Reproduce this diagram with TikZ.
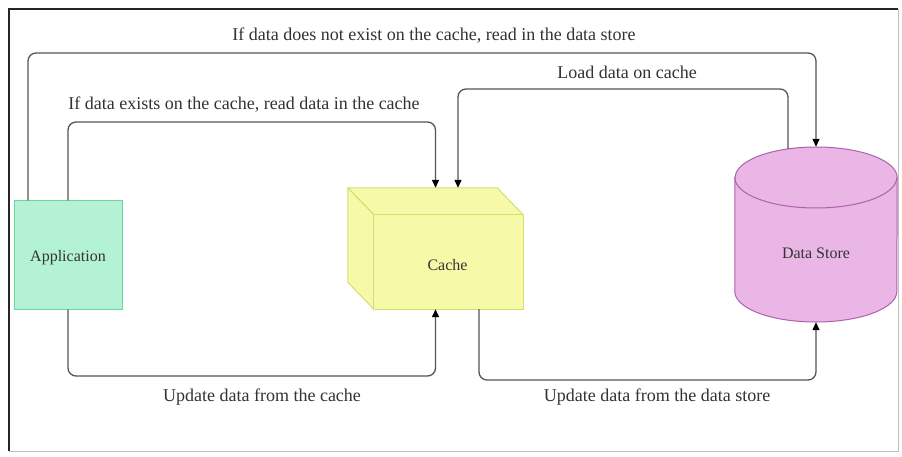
\documentclass[tikz,border=0pt]{standalone}
\usepackage{fontspec}
\setmainfont{Liberation Serif}
\usetikzlibrary{arrows.meta,calc}
\definecolor{appfill}{RGB}{180,242,212}
\definecolor{appline}{RGB}{110,212,160}
\definecolor{cachefill}{RGB}{246,250,168}
\definecolor{cacheline}{RGB}{214,222,112}
\definecolor{storefill}{RGB}{233,182,229}
\definecolor{storeline}{RGB}{176,96,172}
\definecolor{wire}{RGB}{85,85,85}
\definecolor{ink}{RGB}{51,51,51}
\tikzset{
  conn/.style={wire, line width=1.3pt, rounded corners=8pt,
    -{Triangle[length=8pt,width=7pt,black]}},
  lbl/.style={font=\fontsize{18}{20}\selectfont, text=ink, inner sep=0pt},
  nodetext/.style={font=\fontsize{16}{18}\selectfont, text=ink, inner sep=0pt},
  facestyle/.style={fill=cachefill, draw=cacheline, line width=1pt, line join=round},
}
\begin{document}
\begin{tikzpicture}[x=1pt,y=-1pt]
\useasboundingbox (0,0) rectangle (902,457);
\fill[white] (0,0) rectangle (902,457);

% outer frame
\draw[black!85, line width=1.6pt] (9,451) -- (9,9) -- (898,9);
\draw[black!25, line width=0.8pt] (898,9) -- (898,451) -- (9,451);

% application box
\node[draw=appline, fill=appfill, line width=1pt, minimum width=108pt,
      minimum height=108pt] (app) at (68,255) {};
\node[nodetext] (apptext) at (68,258) {Application};

% cache cube: bounding node, then the three visible faces
\node[minimum width=175pt, minimum height=121pt, inner sep=0pt] (cache) at (435.5,248.5) {};
\coordinate (cfnw) at ($(cache.north west)+(26,27)$);
\coordinate (cbne) at ($(cache.north east)+(-26,0)$);
\coordinate (cbsw) at ($(cache.south west)+(0,-27)$);
\coordinate (cfne) at ($(cache.north east)+(0,27)$);
\coordinate (cfsw) at ($(cache.south west)+(26,0)$);
\draw[facestyle] (cache.north west) -- (cbne) -- (cfne) -- (cfnw) -- cycle;
\draw[facestyle] (cache.north west) -- (cfnw) -- (cfsw) -- (cbsw) -- cycle;
\draw[facestyle] (cfnw) rectangle (cache.south east);
\node[nodetext] (cachetext) at ($(cfnw)!0.5!(cache.south east)+(-1,3)$) {Cache};

% data store cylinder
\node[minimum width=162pt, minimum height=175pt, inner sep=0pt] (store) at (816,234.5) {};
\filldraw[fill=storefill, draw=storeline, line width=1pt]
  ($(store.west)+(0,-57)$) -- ($(store.west)+(0,57)$)
  arc[start angle=180, end angle=360, x radius=81pt, y radius=30.5pt]
  -- ($(store.east)+(0,-57)$)
  arc[start angle=0, end angle=180, x radius=81pt, y radius=30.5pt] -- cycle;
\draw[draw=storeline, line width=1pt] ($(store.west)+(0,-57)$)
  arc[start angle=180, end angle=360, x radius=81pt, y radius=30.5pt];
\node[nodetext] (storetext) at (816,253) {Data Store};

% routing rows
\coordinate (rowA) at (0,53);
\coordinate (rowB) at (0,89);
\coordinate (rowC) at (0,122);
\coordinate (rowD) at (0,376);
\coordinate (rowE) at (0,380);
\coordinate (loadstart) at ($(store.north)+(-28,2)$);

% connectors
\draw[conn] ([xshift=-40pt]app.north) -- ([xshift=-40pt]app.north |- rowA) -| (store.north);
\draw[conn] (app.north) -- (app.north |- rowC) -| (cache.north);
\draw[conn] (loadstart) -- (loadstart |- rowB) -| ([xshift=22.5pt]cache.north);
\draw[conn] (app.south) -- (app.south |- rowD) -| (cache.south);
\draw[conn] ([xshift=43.5pt]cache.south) -- ([xshift=43.5pt]cache.south |- rowE) -| (store.south);

% connector labels
\node[lbl] (l1) at (434,36) {If data does not exist on the cache, read in the data store};
\node[lbl] (l2) at (244,105) {If data exists on the cache, read data in the cache};
\node[lbl] (l3) at (627,72) {Load data on cache};
\node[lbl] (l4) at (262,397) {Update data from the cache};
\node[lbl] (l5) at (657,397) {Update data from the data store};
\end{tikzpicture}
\end{document}
